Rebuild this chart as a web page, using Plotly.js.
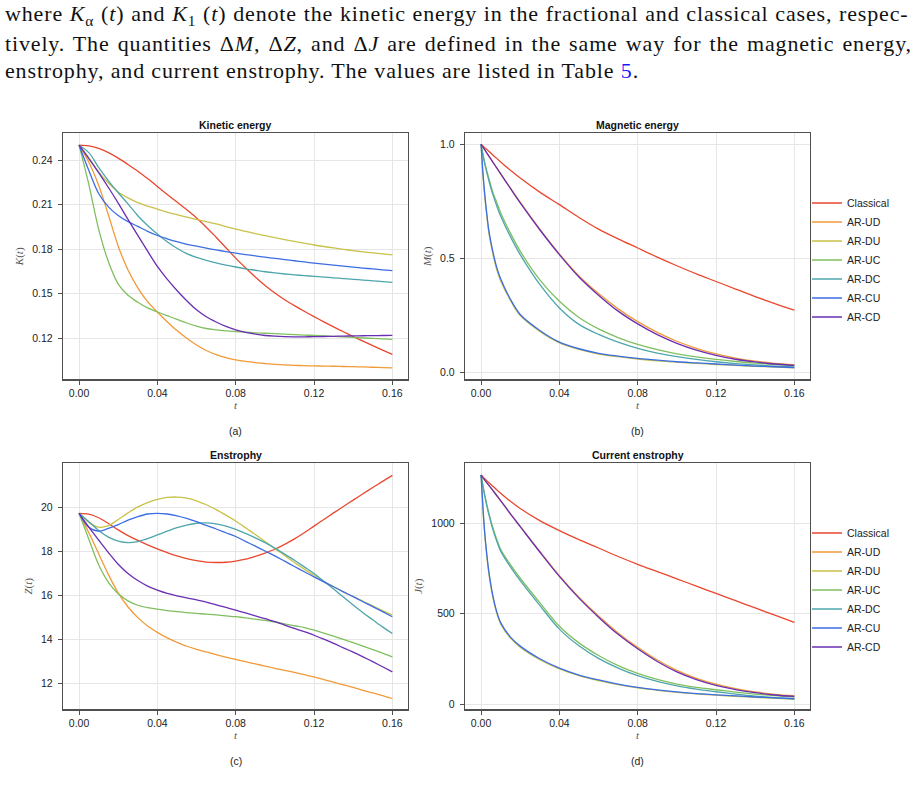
<!DOCTYPE html>
<html><head><meta charset="utf-8">
<script src="https://cdn.plot.ly/plotly-3.0.1.min.js"></script>
<style>html,body{margin:0;padding:0;background:#fff;} #chart{width:914px;height:801px;}</style>
</head><body><div id="chart"></div>
<script>
// ---------- data ----------
const seriesNames = ['Classical','AR-UD','AR-DU','AR-UC','AR-DC','AR-CU','AR-CD'];
const tTicks = [0, 0.04, 0.08, 0.12, 0.16];
const tTickText = ['0.00','0.04','0.08','0.12','0.16'];
const kTicks = [0.12, 0.15, 0.18, 0.21, 0.24];
const kTickText = ['0.12','0.15','0.18','0.21','0.24'];
const mTicks = [0, 0.5, 1.0];
const mTickText = ['0.0','0.5','1.0'];
const zTicks = [12, 14, 16, 18, 20];
const jTicks = [0, 500, 1000];

// time samples for panels (a),(c)
const tA = [0,0.005,0.01,0.015,0.02,0.025,0.03,0.035,0.04,0.045,0.05,0.055,0.06,0.065,0.07,0.075,0.08,0.085,0.09,0.095,0.10,0.105,0.11,0.115,0.12,0.125,0.13,0.135,0.14,0.145,0.15,0.155,0.16];
// time samples for panels (b),(d)
const tB = [0,0.001,0.002,0.003,0.004,0.006,0.008,0.01,0.015,0.02,0.03,0.04,0.05,0.06,0.07,0.08,0.09,0.10,0.11,0.12,0.13,0.14,0.15,0.16];

// (a) Kinetic energy K(t)
const K_classical = [.2500,.2495,.2478,.2450,.2413,.2370,.2325,.2275,.2222,.2168,.2118,.2065,.2010,.1948,.1880,.1810,.1740,.1675,.1613,.1556,.1505,.1460,.1420,.1382,.1346,.1311,.1277,.1244,.1212,.1181,.1151,.1121,.1092];
const K_UD = [.2500,.2385,.2230,.2030,.1820,.1660,.1540,.1447,.1377,.1312,.1252,.1200,.1155,.1118,.1090,.1070,.1055,.1044,.1036,.1030,.1025,.1021,.1018,.1016,.1014,.1013,.1012,.1010,.1009,.1007,.1005,.1003,.1001];
const K_DU = [.2500,.2415,.2320,.2245,.2185,.2145,.2113,.2090,.2070,.2050,.2032,.2015,.2000,.1985,.1970,.1952,.1935,.1920,.1905,.1891,.1877,.1864,.1852,.1840,.1828,.1818,.1808,.1799,.1790,.1782,.1775,.1768,.1761];
const K_UC = [.2500,.2235,.1935,.1715,.1565,.1490,.1443,.1405,.1377,.1352,.1328,.1303,.1282,.1266,.1257,.1250,.1245,.1241,.1237,.1234,.1231,.1228,.1225,.1222,.1219,.1216,.1213,.1209,.1206,.1202,.1199,.1196,.1193];
const K_DC = [.2500,.2450,.2350,.2260,.2180,.2105,.2025,.1960,.1902,.1850,.1806,.1770,.1745,.1725,.1708,.1693,.1680,.1668,.1658,.1648,.1640,.1633,.1627,.1622,.1617,.1612,.1607,.1602,.1597,.1592,.1587,.1582,.1577];
const K_CU = [.2500,.2330,.2175,.2085,.2027,.1985,.1953,.1920,.1892,.1870,.1850,.1833,.1820,.1807,.1795,.1784,.1774,.1764,.1755,.1746,.1738,.1730,.1722,.1714,.1706,.1699,.1692,.1686,.1679,.1673,.1667,.1661,.1655];
const K_CD = [.2500,.2410,.2315,.2215,.2110,.2000,.1893,.1787,.1684,.1598,.1522,.1453,.1392,.1345,.1310,.1280,.1257,.1240,.1228,.1219,.1214,.1211,.1210,.1210,.1211,.1212,.1213,.1215,.1216,.1217,.1218,.1219,.1220];

// (b) Magnetic energy M(t)
const M_classical = [1.0,.992,.984,.977,.969,.953,.938,.922,.886,.852,.790,.735,.679,.628,.585,.545,.505,.467,.431,.398,.365,.332,.301,.272];
const M_UD = [1.0,.987,.974,.961,.948,.922,.896,.871,.808,.746,.628,.519,.422,.345,.278,.222,.175,.136,.105,.080,.062,.049,.039,.033];
const M_DU = [1.0,.86,.76,.68,.61,.52,.45,.40,.315,.248,.179,.129,.100,.080,.068,.058,.050,.044,.039,.034,.030,.026,.023,.019];
const M_UC = [1.0,.955,.915,.88,.85,.79,.745,.70,.61,.531,.405,.311,.240,.190,.152,.122,.099,.081,.067,.056,.047,.040,.034,.029];
const M_DC = [1.0,.95,.91,.875,.84,.78,.73,.685,.595,.516,.385,.282,.210,.166,.132,.105,.084,.068,.056,.046,.038,.032,.027,.023];
const M_CU = [1.0,.87,.77,.69,.62,.53,.46,.41,.32,.253,.183,.132,.103,.083,.071,.061,.053,.046,.041,.036,.031,.027,.024,.020];
const M_CD = [1.0,.987,.974,.961,.948,.922,.896,.870,.806,.743,.625,.516,.418,.338,.268,.212,.165,.127,.097,.074,.057,.045,.036,.030];

// (c) Enstrophy Z(t)
const Z_classical = [19.73,19.69,19.53,19.27,18.98,18.72,18.50,18.30,18.12,17.95,17.80,17.68,17.58,17.52,17.50,17.51,17.56,17.65,17.78,17.93,18.10,18.32,18.57,18.85,19.15,19.45,19.75,20.04,20.33,20.62,20.90,21.18,21.45];
const Z_UD = [19.73,18.85,17.90,16.95,16.12,15.48,15.00,14.62,14.33,14.08,13.88,13.70,13.56,13.44,13.32,13.21,13.10,13.00,12.90,12.80,12.70,12.61,12.51,12.41,12.31,12.19,12.07,11.95,11.83,11.70,11.58,11.46,11.33];
const Z_DU = [19.73,19.32,19.10,19.17,19.45,19.75,20.02,20.22,20.36,20.45,20.47,20.42,20.30,20.12,19.90,19.65,19.38,19.08,18.77,18.45,18.13,17.82,17.50,17.20,16.92,16.65,16.40,16.17,15.95,15.74,15.53,15.32,15.12];
const Z_UC = [19.73,18.55,17.40,16.60,16.08,15.76,15.56,15.45,15.38,15.32,15.27,15.23,15.19,15.16,15.12,15.08,15.04,14.99,14.93,14.87,14.80,14.72,14.63,14.55,14.43,14.30,14.16,14.01,13.86,13.71,13.55,13.39,13.22];
const Z_DC = [19.73,19.35,18.95,18.65,18.47,18.40,18.45,18.58,18.75,18.92,19.08,19.20,19.28,19.30,19.25,19.15,19.00,18.82,18.62,18.40,18.15,17.88,17.60,17.30,17.00,16.65,16.30,15.93,15.57,15.22,14.90,14.58,14.28];
const Z_CU = [19.73,19.10,18.92,19.05,19.22,19.42,19.58,19.70,19.73,19.70,19.62,19.50,19.35,19.18,19.02,18.85,18.68,18.46,18.24,18.02,17.80,17.56,17.32,17.08,16.85,16.62,16.40,16.17,15.95,15.72,15.50,15.27,15.04];
const Z_CD = [19.73,19.10,18.52,17.95,17.42,17.00,16.68,16.43,16.25,16.10,15.99,15.89,15.80,15.70,15.58,15.46,15.34,15.21,15.08,14.95,14.82,14.66,14.51,14.36,14.20,14.02,13.83,13.63,13.43,13.22,13.00,12.77,12.54];

// (d) Current enstrophy J(t)
const J_classical = [1265,1254,1243,1233,1223,1203,1184,1165,1120,1080,1013,958,908,862,815,772,732,692,651,611,571,531,491,451];
const J_UD = [1265,1250,1236,1222,1208,1180,1152,1124,1051,982,843,709,590,486,393,313,243,186,142,110,85,67,54,46];
const J_DU = [1265,1070,920,810,720,590,503,443,364,314,245,194,157,130,107,89,76,65,56,49,43,37,32,28];
const J_UC = [1265,1205,1150,1100,1055,975,910,855,770,695,560,430,338,268,212,169,136,110,92,79,66,55,46,38];
const J_DC = [1265,1200,1143,1092,1046,965,900,845,758,682,545,414,322,252,199,157,125,100,82,68,55,44,36,28];
const J_CU = [1265,1080,930,820,730,600,510,450,370,320,250,198,160,133,110,92,78,67,58,51,45,39,34,30];
const J_CD = [1265,1250,1236,1222,1208,1180,1152,1124,1050,980,840,705,585,480,385,305,235,178,135,103,80,63,50,42];

// paragraph text above the figure
const para1 = 'where <i>K</i><sub>α</sub> (<i>t</i>) and <i>K</i><sub>1</sub> (<i>t</i>) denote the kinetic energy in the fractional and classical cases, respec-';
const para2 = 'tively. The quantities Δ<i>M</i>, Δ<i>Z</i>, and Δ<i>J</i> are defined in the same way for the magnetic energy,';
const para3 = 'enstrophy, and current enstrophy. The values are listed in Table <span style="color:#1a1aff">5</span>.';

// ---------- styles ----------
const colors = ['#e9472f','#f09a38','#c9c24a','#80bf60','#4ea6ad','#3c6de3','#6a2eb2'];
const SANS = 'Liberation Sans, Arial, Helvetica, sans-serif';
const SERIF = 'Liberation Serif, Times New Roman, serif';

const panels = [
  {t: tA, ys: [K_classical,K_UD,K_DU,K_UC,K_DC,K_CU,K_CD], xa:'x', ya:'y', legend:null},
  {t: tB, ys: [M_classical,M_UD,M_DU,M_UC,M_DC,M_CU,M_CD], xa:'x2', ya:'y2', legend:'legend'},
  {t: tA, ys: [Z_classical,Z_UD,Z_DU,Z_UC,Z_DC,Z_CU,Z_CD], xa:'x3', ya:'y3', legend:null},
  {t: tB, ys: [J_classical,J_UD,J_DU,J_UC,J_DC,J_CU,J_CD], xa:'x4', ya:'y4', legend:'legend2'}
];

const traces = [];
panels.forEach(p => {
  p.ys.forEach((y, i) => {
    const tr = {x: p.t, y: y, type:'scatter', mode:'lines', name: seriesNames[i],
      xaxis: p.xa, yaxis: p.ya,
      line:{color: colors[i], width:1.3, shape:'spline', smoothing:0.9},
      showlegend: !!p.legend, hoverinfo:'skip'};
    if (p.legend) tr.legend = p.legend;
    traces.push(tr);
  });
});

const W = 914, H = 801;
const px = v => v / W;
const py = v => 1 - v / H;

function xAxis(dom, anchor){
  return {domain: dom, anchor: anchor, range:[-0.0082, 0.168],
    tickmode:'array', tickvals: tTicks, ticktext: tTickText,
    showgrid:true, gridcolor:'#e6e6e6', gridwidth:1, zeroline:false,
    showline:true, linecolor:'#505050', linewidth:1.2, mirror:true,
    ticks:'outside', ticklen:4, tickcolor:'#505050', tickwidth:1,
    tickfont:{family:SANS, size:10.5, color:'#222'},
    title:{text:'<i>t</i>', font:{family:SERIF, size:11, color:'#555'}, standoff:2}};
}
function yAxis(dom, anchor, range, tv, tt, title){
  const a = {domain: dom, anchor: anchor, range: range,
    tickmode:'array', tickvals: tv,
    showgrid:true, gridcolor:'#e6e6e6', gridwidth:1, zeroline:false,
    showline:true, linecolor:'#505050', linewidth:1.2, mirror:true,
    ticks:'outside', ticklen:4, tickcolor:'#505050', tickwidth:1, ticklabelstandoff:3,
    tickfont:{family:SANS, size:10.5, color:'#222'},
    title:{text:title, font:{family:SERIF, size:11, color:'#555'}, standoff:6}};
  if (tt) a.ticktext = tt;
  return a;
}

const xL = [px(63), px(408)], xR = [px(465), px(810)];
const yT = [py(379.3), py(133.3)], yB = [py(709.3), py(463.3)];

const titleFont = {family:SANS, size:10.5, color:'#111'};
const capFont = {family:SANS, size:10.5, color:'#222'};
const paraFont = {family:SERIF, size:22, color:'#111'};

function note(text, x, y, font, extra){
  return Object.assign({text, x:px(x), y:py(y), xref:'paper', yref:'paper',
    xanchor:'center', yanchor:'middle', showarrow:false, font}, extra || {});
}

const annotations = [
  note('<b>Kinetic energy</b>', 235.5, 125, titleFont),
  note('<b>Magnetic energy</b>', 637.5, 125, titleFont),
  note('<b>Enstrophy</b>', 235.5, 455, titleFont),
  note('<b>Current enstrophy</b>', 637.5, 455, titleFont),
  note('(a)', 235.5, 431, capFont),
  note('(b)', 637.5, 431, capFont),
  note('(c)', 235.5, 761, capFont),
  note('(d)', 637.5, 761, capFont),
  note(para1, 3, 15, paraFont, {xanchor:'left'}),
  note(para2, 3, 43, paraFont, {xanchor:'left'}),
  note(para3, 3, 70, paraFont, {xanchor:'left'})
];

const legendBase = {xanchor:'left', yanchor:'middle', font:{family:SANS, size:10.5, color:'#222'},
  bgcolor:'rgba(0,0,0,0)', borderwidth:0, itemwidth:30, tracegroupgap:0};

const layout = {
  width: W, height: H, margin:{l:0, r:0, t:0, b:0},
  paper_bgcolor:'#fff', plot_bgcolor:'#fff',
  xaxis: xAxis(xL, 'y'), yaxis: yAxis(yT, 'x', [0.0924, 0.258], kTicks, kTickText, '<i>K</i>(<i>t</i>)'),
  xaxis2: xAxis(xR, 'y2'), yaxis2: yAxis(yT, 'x2', [-0.031, 1.048], mTicks, mTickText, '<i>M</i>(<i>t</i>)'),
  xaxis3: xAxis(xL, 'y3'), yaxis3: yAxis(yB, 'x3', [10.84, 22.0], zTicks, null, '<i>Z</i>(<i>t</i>)'),
  xaxis4: xAxis(xR, 'y4'), yaxis4: yAxis(yB, 'x4', [-29, 1330], jTicks, null, '<i>J</i>(<i>t</i>)'),
  legend: Object.assign({x: px(807), y: py(260)}, legendBase),
  legend2: Object.assign({x: px(807), y: py(590)}, legendBase),
  annotations: annotations,
  showlegend: true
};

Plotly.newPlot('chart', traces, layout, {staticPlot:true, displayModeBar:false}).then(gd => {
  // fit paragraph lines to the text block width (line 3 is a short last line)
  const nodes = Array.from(gd.querySelectorAll('.annotation-text'));
  const find = s => nodes.find(n => n.textContent.startsWith(s));
  const n1 = find('where'), n2 = find('tively'), n3 = find('enstrophy,');
  if (!n1 || !n2 || !n3) return;
  const w3 = n3.getBBox().width, L3 = n3.textContent.length;
  const ls = Math.max(0, (637 - 3 - w3) / L3);
  const ws = (node, target) => {
    const w = node.getBBox().width, L = node.textContent.length;
    const sp = (node.textContent.match(/ /g) || []).length;
    return Math.max(0, (target - w - ls * L) / sp);
  };
  const ws1 = ws(n1, 907), ws2 = ws(n2, 907);
  const wrap = (t, w) => '<span style="letter-spacing:' + ls.toFixed(2) + 'px;word-spacing:' + w.toFixed(2) + 'px">' + t + '</span>';
  return Plotly.relayout(gd, {
    'annotations[8].text': wrap(para1, ws1),
    'annotations[9].text': wrap(para2, ws2),
    'annotations[10].text': wrap(para3, 0)
  });
});
</script>
</body></html>
